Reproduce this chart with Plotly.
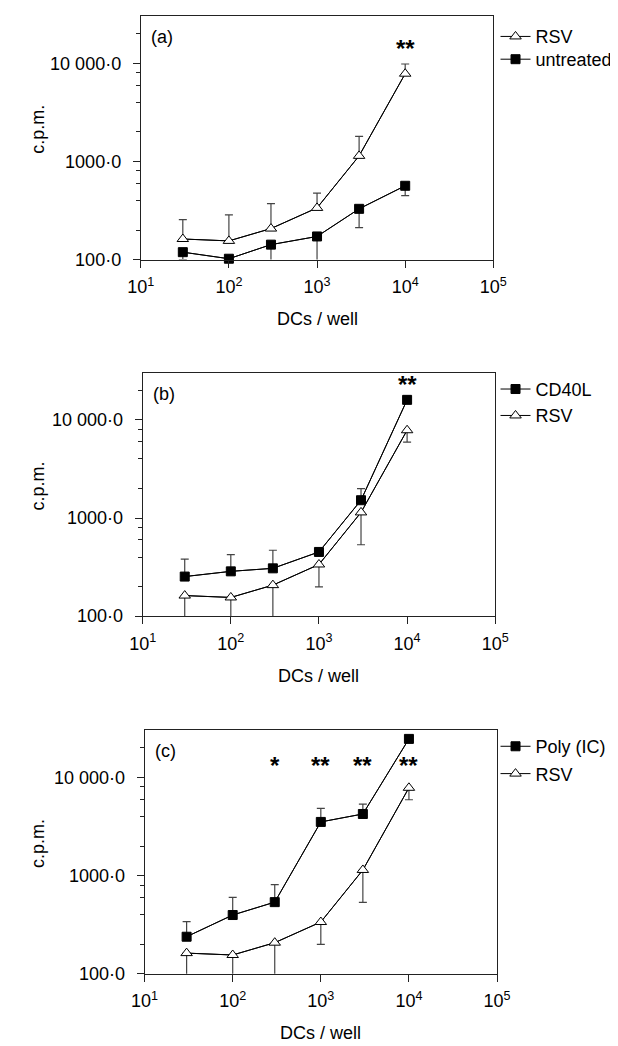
import math
import plotly.graph_objects as go

# ---------------- data ----------------
dcs = [30, 100, 300, 1000, 3000, 10000]

rsv_mean = [162, 155, 207, 336, 1140, 7840]
rsv_err_up = [93, 131, 165, 140, 659, 2004]
rsv_err_down = [94, 131, 165, 137, 606, 1920]

untreated_mean = [119, 102, 142, 172, 329, 565]
untreated_err_down = [19, 3, 60, 95, 117, 117]

cd40l_mean = [253, 286, 307, 451, 1518, 16000]
cd40l_err_up = [128, 138, 162, 40, 472, 1500]

poly_mean = [238, 396, 536, 3520, 4240, 24700]
poly_err_up = [102, 202, 272, 1310, 1100, 1500]

y_tickvals = [100, 1000, 10000]
y_ticktext = ["100·0", "1000·0", "10 000·0"]
y_minor_vals = [200, 400, 600, 800, 2000, 4000, 6000, 8000, 20000]
x_tickvals = [10, 100, 1000, 10000, 100000]
x_ticktext = ["10<sup>1</sup>", "10<sup>2</sup>", "10<sup>3</sup>", "10<sup>4</sup>", "10<sup>5</sup>"]

panel_labels = ["(a)", "(b)", "(c)"]
star_x = [[10000], [10000], [300, 1000, 3000, 10000]]
star_y = [[14300], [22700], [13100, 13100, 13100, 13100]]
star_txt = [["**"], ["**"], ["*", "**", "**", "**"]]

x_title = "DCs / well"
y_title = "c.p.m."

# ---------------- layout geometry (pixels) ----------------
W, H = 618, 1046
FONT = "Liberation Sans, Arial, Helvetica, sans-serif"
panels = [  # x0, x1, ytop, ybottom
    (124.4, 493.7, 8.3, 254.0),
    (126.4, 495.7, 368.3, 614.0),
    (128.4, 497.6, 729.3, 975.0),
]

fig = go.Figure()

sq = dict(symbol="square", size=9, color="black", line=dict(color="black", width=1))
tri = dict(symbol="triangle-up", size=10, color="white", line=dict(color="black", width=1))
ERRC = "#444444"
zeros = [0] * len(dcs)

def add_series(k, y, up, down, marker, name, legend_id):
    xa = "x" if k == 0 else f"x{k+1}"
    ya = "y" if k == 0 else f"y{k+1}"
    fig.add_trace(go.Scatter(
        x=dcs, y=y, mode="lines", xaxis=xa, yaxis=ya, showlegend=False,
        line=dict(color="black", width=1),
        error_y=dict(type="data", symmetric=False, array=up, arrayminus=down,
                     color=ERRC, thickness=1.2, width=4),
        hoverinfo="skip"))
    fig.add_trace(go.Scatter(
        x=dcs, y=y, mode="lines+markers", xaxis=xa, yaxis=ya, name=name,
        line=dict(color="black", width=1), marker=marker, cliponaxis=False,
        showlegend=True, legend=legend_id))

# panel a
add_series(0, rsv_mean, rsv_err_up, zeros, tri, "RSV", "legend")
add_series(0, untreated_mean, zeros, untreated_err_down, sq, "untreated", "legend2")
# panel b
add_series(1, rsv_mean, zeros, rsv_err_down, tri, "RSV", "legend4")
add_series(1, cd40l_mean, cd40l_err_up, zeros, sq, "CD40L", "legend3")
# panel c
add_series(2, rsv_mean, zeros, rsv_err_down, tri, "RSV", "legend6")
add_series(2, poly_mean, poly_err_up, zeros, sq, "Poly (IC)", "legend5")

layout = dict(width=W, height=H, autosize=False, margin=dict(l=0, r=0, t=0, b=0),
              paper_bgcolor="white", plot_bgcolor="white",
              font=dict(family=FONT, size=18, color="black"))

AX = "#222222"
for k, (x0, x1, yt, yb) in enumerate(panels):
    sx = "" if k == 0 else str(k + 1)
    layout["xaxis" + sx] = dict(
        type="log", range=[1, 5], domain=[x0 / W, x1 / W], anchor="y" + sx,
        tickvals=x_tickvals, ticktext=x_ticktext, ticks="outside", ticklen=7,
        tickwidth=1, tickcolor=AX, showline=True, linecolor=AX, linewidth=1,
        mirror=True, showgrid=False, zeroline=False,
        tickfont=dict(family=FONT, size=18, color="black"), ticklabelstandoff=4)
    layout["yaxis" + sx] = dict(
        type="log", range=[2, 4.48], domain=[1 - yb / H, 1 - yt / H], anchor="x" + sx,
        tickvals=y_tickvals, ticktext=y_ticktext, ticks="outside", ticklen=7,
        tickwidth=1, tickcolor=AX, showline=True, linecolor=AX, linewidth=1,
        mirror=True, showgrid=False, zeroline=False,
        minor=dict(tickvals=y_minor_vals, ticks="outside", ticklen=4, tickwidth=1,
                   tickcolor=AX, showgrid=False),
        tickfont=dict(family=FONT, size=18, color="black"), ticklabelstandoff=8)

legend_pos = {"legend": 29, "legend2": 52, "legend3": 385, "legend4": 411.7,
              "legend5": 745.7, "legend6": 773.3}
for lid, yc in legend_pos.items():
    layout[lid] = dict(x=496 / W, y=1 - yc / H, xanchor="left", yanchor="middle",
                       bgcolor="rgba(0,0,0,0)", borderwidth=0,
                       font=dict(family=FONT, size=18, color="black"))

ann = []
for k, (x0, x1, yt, yb) in enumerate(panels):
    sx = "" if k == 0 else str(k + 1)
    ann.append(dict(text=panel_labels[k], xref="paper", yref="paper",
                    x=(x0 + 9) / W, y=1 - (yt + 21) / H, xanchor="left", yanchor="middle",
                    showarrow=False, font=dict(family=FONT, size=18)))
    ann.append(dict(text=y_title, xref="paper", yref="paper", textangle=-90,
                    x=16.6 / W, y=1 - ((yt + yb) / 2 - 9) / H, xanchor="center",
                    yanchor="middle", showarrow=False, font=dict(family=FONT, size=18)))
    ann.append(dict(text=x_title, xref="paper", yref="paper",
                    x=(x0 + x1) / 2 / W, y=1 - (yb + 60) / H, xanchor="center",
                    yanchor="middle", showarrow=False, font=dict(family=FONT, size=18)))
    for sxv, syv, st in zip(star_x[k], star_y[k], star_txt[k]):
        ann.append(dict(text="<b>" + st + "</b>", xref="x" + sx, yref="y" + sx,
                        x=math.log10(sxv), y=math.log10(syv), xanchor="center",
                        yanchor="middle", showarrow=False,
                        font=dict(family=FONT, size=24)))
layout["annotations"] = ann

fig.update_layout(**layout)
fig.write_html("out.html")
